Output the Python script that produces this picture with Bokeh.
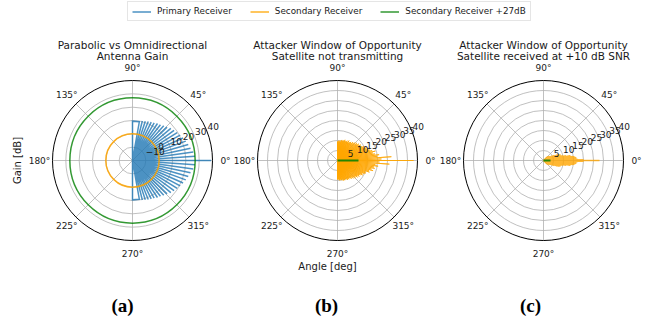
import numpy as np
from bokeh.plotting import figure
from bokeh.models import Range1d, Label, Legend, LegendItem
from bokeh.core.properties import value
from bokeh.embed import file_html
from bokeh.resources import INLINE

W, H = 648, 322

# ---------------------------------------------------------------- data
# Primary receiver (parabolic dish): lobe peaks, upper half (mirrored below)
PRIMARY_PEAK_DEG = [0, 4, 8, 12, 16, 20, 24, 28, 32, 36, 40, 44, 48, 52, 56, 60, 64, 68, 72, 76]
PRIMARY_PEAK_DB = [39.0, 27.0, 26.0, 24.5, 23.5, 22.5, 21.5, 20.5, 19.5, 18.5,
                   17.5, 16.0, 15.0, 14.0, 13.5, 12.5, 12.0, 11.5, 11.0, 10.5]
PRIMARY_EDGE_DEG = [80, 90]          # flat shoulder towards broadside
PRIMARY_EDGE_DB = 9.5

# Secondary receiver (omnidirectional) and the same +27 dB
SECONDARY_DB = 0.0
SECONDARY_BOOST_DB = 27.0

# Attacker window, satellite not transmitting
WIN_B_MAIN_DB = 38.0
WIN_B_UP_DEG = [2, 4, 6, 8, 10, 12, 14, 16, 18, 20, 22, 24, 26, 28, 30, 32, 34, 36, 38, 40,
                42, 44, 46, 48, 50, 52, 54, 56, 58, 60, 62, 64, 66, 68, 70, 72, 74, 76, 78, 80,
                82, 84, 86, 88, 90]
WIN_B_UP_DB = [22, 27, 20, 21, 19, 18, 19.5, 18, 17, 16.5, 15.5, 16, 14.5, 15, 14, 13.5, 14, 13,
               13.5, 12.5, 13, 12, 12.5, 11.5, 12, 11, 11.5, 11, 10.5, 11.5, 10.5, 11, 10, 10.5,
               11, 10, 10.5, 10, 10.5, 9.5, 10, 9.5, 10, 9.5, 9.5]
WIN_B_LOW_DEG = [-2, -4, -6, -8, -10, -12, -14, -16, -18, -20, -22, -24, -26, -28, -30, -32, -34,
                 -36, -38, -40, -42, -44, -46, -48, -50, -52, -54, -56, -58, -60, -62, -64, -66,
                 -68, -70, -72, -74, -76, -78, -80, -82, -84, -86, -88, -90]
WIN_B_LOW_DB = [21, 26, 19, 20.5, 18.5, 19, 17.5, 18.5, 16.5, 17, 15, 15.5, 15, 14, 14.5, 13.5, 13,
                13.5, 12.5, 13, 12, 12.5, 11.5, 12, 11, 11.5, 11, 10.5, 11, 10.5, 11, 10, 10.5, 10,
                10.5, 10, 10.5, 9.5, 10, 10, 9.5, 10, 9.5, 9.5, 9.5]
WIN_B_BOOST_DB = 10.5

# Attacker window, satellite received at +10 dB SNR
WIN_C_DEG = [-45, -40, -36, -32, -28, -25, -22, -20, -18, -16, -14, -12, -10, -9, -8, -7, -6,
             -5, -4, -3, -2, -1, 0, 1, 2, 3, 4, 5, 6, 7, 8, 9, 10, 12, 14, 16, 18, 20, 22, 25,
             28, 32, 36, 40, 45]
WIN_C_DB = [2.5, 3.0, 3.5, 4.0, 5.0, 6.0, 7.5, 8.5, 9.0, 9.0, 10.0, 11.5, 13.5, 14.0, 15.0, 15.5,
            16.0, 16.5, 16.5, 16.0, 17.0, 20.0, 28.0, 20.0, 17.0, 16.0, 16.5, 16.5, 16.0, 15.5,
            15.0, 14.0, 13.5, 11.5, 10.0, 9.0, 9.0, 8.5, 7.5, 6.0, 5.0, 4.0, 3.5, 3.0, 2.5]
WIN_C_BOOST_DB = 3.5

RINGS_A = [-10, 0, 10, 20, 30, 40]
RING_LABELS_A = ["\u221210", "0", "10", "20", "30", "40"]
RINGS_BC = [5, 10, 15, 20, 25, 30, 35, 40]
RING_LABELS_BC = ["5", "10", "15", "20", "25", "30", "35", "40"]
THETA_TICKS = [0, 45, 90, 135, 180, 225, 270, 315]
THETA_LABELS = ["0\u00b0", "45\u00b0", "90\u00b0", "135\u00b0", "180\u00b0", "225\u00b0", "270\u00b0", "315\u00b0"]

TITLES = [("Parabolic vs Omnidirectional", "Antenna Gain"),
          ("Attacker Window of Opportunity", "Satellite not transmitting"),
          ("Attacker Window of Opportunity", "Satellite received at +10 dB SNR")]
PANEL_TAGS = ["(a)", "(b)", "(c)"]

# ---------------------------------------------------------------- style
BLUE = "#1f77b4"
ORANGE = "#ffa500"
GREEN = "#008000"
GRID = "#b0b0b0"
TXT = "#1a1a1a"
SANS = value("DejaVu Sans")

p = figure(width=W, height=H, x_range=Range1d(0, W), y_range=Range1d(0, H),
           output_backend="svg", toolbar_location=None, min_border=0,
           x_axis_location=None, y_axis_location=None)
p.xgrid.visible = False
p.ygrid.visible = False
p.outline_line_color = None
p.background_fill_color = "white"
p.border_fill_color = "white"

extra_x, extra_y = {}, {}
RADIUS_PX = 80
CY_TOP = 160
panels = {
    "a": dict(cx=132, rmin=-20, rmax=40, rings=RINGS_A, labels=RING_LABELS_A),
    "b": dict(cx=337, rmin=0, rmax=40, rings=RINGS_BC, labels=RING_LABELS_BC),
    "c": dict(cx=543, rmin=0, rmax=40, rings=RINGS_BC, labels=RING_LABELS_BC),
}
for key, pc in panels.items():
    ppu = RADIUS_PX / (pc["rmax"] - pc["rmin"])
    pc["ppu"] = ppu
    extra_x[key] = Range1d(-pc["cx"] / ppu, (W - pc["cx"]) / ppu)
    extra_y[key] = Range1d(-(H - CY_TOP) / ppu, CY_TOP / ppu)
p.extra_x_ranges = extra_x
p.extra_y_ranges = extra_y


def polar_xy(deg, db, rmin):
    r = np.clip(np.asarray(db, dtype=float) - rmin, 0, None)
    t = np.radians(np.asarray(deg, dtype=float))
    return r * np.cos(t), r * np.sin(t)


def spokes(peaks, floor):
    """Path that runs out to every lobe peak and back to the floor."""
    deg, db = [peaks[0][0]], [floor]
    for d, v in peaks:
        deg += [d, d]
        db += [v, floor]
    return deg, db


def draw_grid(key):
    pc = panels[key]
    inner = [r - pc["rmin"] for r in pc["rings"][:-1]]
    p.arc(x=[0] * len(inner), y=[0] * len(inner), radius=inner, start_angle=0,
          end_angle=2 * np.pi, line_color=GRID, line_width=0.8,
          x_range_name=key, y_range_name=key)
    tx, ty = polar_xy(THETA_TICKS, [pc["rmax"]] * len(THETA_TICKS), pc["rmin"])
    p.segment(x0=[0] * len(tx), y0=[0] * len(tx), x1=tx, y1=ty, line_color=GRID,
              line_width=0.8, x_range_name=key, y_range_name=key)


def draw_frame_and_labels(key):
    pc = panels[key]
    R = pc["rmax"] - pc["rmin"]
    p.arc(x=[0], y=[0], radius=[R], start_angle=0, end_angle=2 * np.pi,
          line_color="black", line_width=1.0, x_range_name=key, y_range_name=key)
    lx, ly = polar_xy([22.5] * len(pc["rings"]), pc["rings"], pc["rmin"])
    p.text(x=lx, y=ly, text=pc["labels"], x_offset=1, text_align="left",
           text_baseline="bottom", text_font=SANS, text_font_size="9px", text_color=TXT,
           x_range_name=key, y_range_name=key)
    lab_r = R + 13 / pc["ppu"]
    t = np.radians(THETA_TICKS)
    p.text(x=lab_r * np.cos(t), y=lab_r * np.sin(t), text=THETA_LABELS, text_align="center",
           text_baseline="middle", text_font=SANS, text_font_size="9px", text_color=TXT,
           x_range_name=key, y_range_name=key)


# ---------------------------------------------------------------- panel (a)
draw_grid("a")
rmin_a = panels["a"]["rmin"]
upper = list(zip(PRIMARY_PEAK_DEG, PRIMARY_PEAK_DB))
lower = [(-d, v) for d, v in reversed(upper[1:])]
lobe_deg, lobe_db = spokes(lower + upper, rmin_a)
path_deg = [-PRIMARY_EDGE_DEG[1], -PRIMARY_EDGE_DEG[1], -PRIMARY_EDGE_DEG[0]] + lobe_deg + \
           [PRIMARY_EDGE_DEG[0], PRIMARY_EDGE_DEG[1], PRIMARY_EDGE_DEG[1]]
path_db = [rmin_a, PRIMARY_EDGE_DB, PRIMARY_EDGE_DB] + lobe_db + \
          [PRIMARY_EDGE_DB, PRIMARY_EDGE_DB, rmin_a]
ax_, ay_ = polar_xy(path_deg, path_db, rmin_a)
r_primary = p.line(ax_, ay_, line_color=BLUE, line_alpha=0.8, line_width=1.5,
                   line_join="miter", x_range_name="a", y_range_name="a")
r_secondary = p.arc(x=[0], y=[0], radius=[SECONDARY_DB - rmin_a], start_angle=0,
                    end_angle=2 * np.pi, line_color=ORANGE, line_alpha=0.85, line_width=1.5,
                    x_range_name="a", y_range_name="a")
r_boost = p.arc(x=[0], y=[0], radius=[SECONDARY_BOOST_DB - rmin_a], start_angle=0,
                end_angle=2 * np.pi, line_color=GREEN, line_alpha=0.8, line_width=1.5,
                x_range_name="a", y_range_name="a")
draw_frame_and_labels("a")

# ---------------------------------------------------------------- panel (b)
draw_grid("b")
peaks_b = list(zip(reversed(WIN_B_LOW_DEG), reversed(WIN_B_LOW_DB))) + [(0, WIN_B_MAIN_DB)] + \
          list(zip(WIN_B_UP_DEG, WIN_B_UP_DB))
bd, bv = spokes(peaks_b, 0)
bx, by = polar_xy(bd, bv, 0)
p.line(bx, by, line_color=ORANGE, line_alpha=0.75, line_width=1.0,
       x_range_name="b", y_range_name="b")
gx, gy = polar_xy([0, 0], [0, WIN_B_BOOST_DB], 0)
p.line(gx, gy, line_color=GREEN, line_alpha=0.85, line_width=2.0,
       x_range_name="b", y_range_name="b")
draw_frame_and_labels("b")

# ---------------------------------------------------------------- panel (c)
draw_grid("c")
cd, cv = spokes(list(zip(WIN_C_DEG, WIN_C_DB)), 0)
cx_, cy_ = polar_xy(cd, cv, 0)
p.line(cx_, cy_, line_color=ORANGE, line_alpha=0.8, line_width=1.4,
       x_range_name="c", y_range_name="c")
gx, gy = polar_xy([0, 0], [0, WIN_C_BOOST_DB], 0)
p.line(gx, gy, line_color=GREEN, line_alpha=0.85, line_width=2.0,
       x_range_name="c", y_range_name="c")
draw_frame_and_labels("c")

# ---------------------------------------------------------------- texts
for key, (l1, l2) in zip(["a", "b", "c"], TITLES):
    cx = panels[key]["cx"]
    for txt, yt in ((l1, 44), (l2, 55.5)):
        p.add_layout(Label(x=cx, y=H - yt, text=txt, text_align="center",
                           text_baseline="middle", text_font="DejaVu Sans",
                           text_font_size="10.5px", text_color=TXT))

p.add_layout(Label(x=17, y=H - 160, text="Gain [dB]", angle=np.pi / 2, text_align="center",
                   text_baseline="middle", text_font="DejaVu Sans", text_font_size="10px",
                   text_color=TXT))
p.add_layout(Label(x=327, y=H - 266, text="Angle [deg]", text_align="center",
                   text_baseline="middle", text_font="DejaVu Sans", text_font_size="10px",
                   text_color=TXT))
for tag, xt in zip(PANEL_TAGS, [122, 326, 530]):
    p.add_layout(Label(x=xt, y=H - 305, text=tag, text_align="center", text_baseline="middle",
                       text_font="Liberation Serif", text_font_style="bold",
                       text_font_size="19px", text_color="black"))

legend = Legend(items=[LegendItem(label="Primary Receiver", renderers=[r_primary]),
                       LegendItem(label="Secondary Receiver", renderers=[r_secondary]),
                       LegendItem(label="Secondary Receiver +27dB", renderers=[r_boost])],
                location=(127, H - 21), orientation="horizontal", margin=0, padding=4,
                spacing=18, glyph_width=19, glyph_height=9, label_height=9,
                label_standoff=6, label_text_font="DejaVu Sans", label_text_font_size="8.8px",
                label_text_color=TXT, border_line_color="#cccccc", border_line_width=1,
                background_fill_alpha=0.8)
p.add_layout(legend)

open("out.html", "w").write(file_html(p, INLINE))
